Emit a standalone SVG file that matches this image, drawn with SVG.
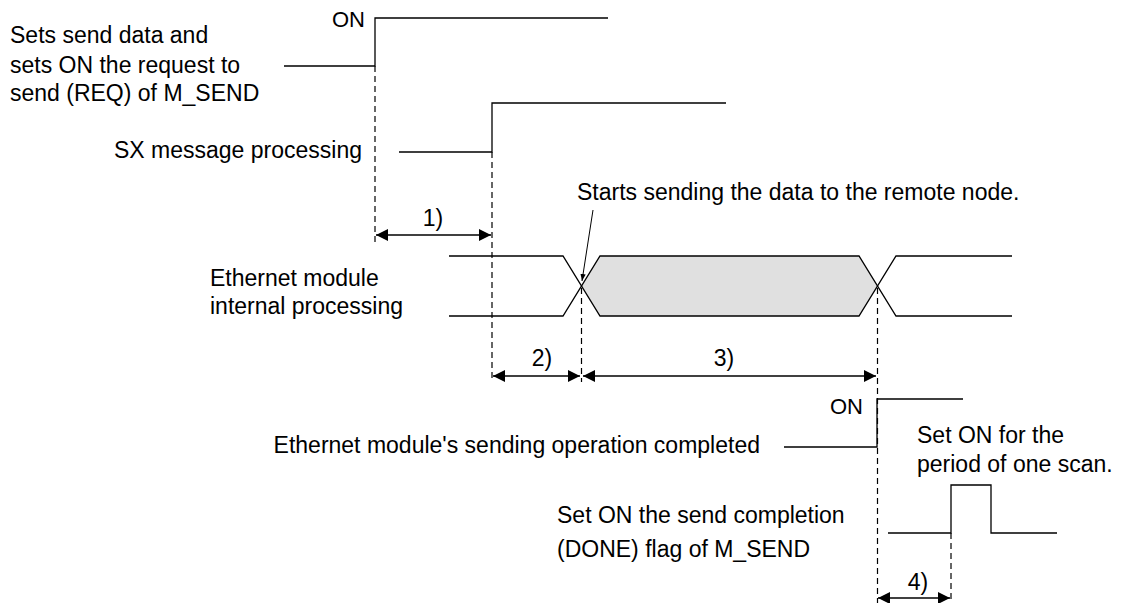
<svg xmlns="http://www.w3.org/2000/svg" width="1123" height="603" viewBox="0 0 1123 603">
<style>
text{font-family:"Liberation Sans",Arial,sans-serif;font-size:23px;fill:#000}
.on{font-size:22px}
.sig{fill:none;stroke:#000;stroke-width:1.3}
.dash{fill:none;stroke:#000;stroke-width:1.2;stroke-dasharray:6 4}
.dim{fill:none;stroke:#000;stroke-width:1.5;marker-start:url(#ah);marker-end:url(#ah)}
</style>
<defs>
<marker id="ah" viewBox="0 0 12 12" refX="12" refY="6" markerWidth="12" markerHeight="12" markerUnits="userSpaceOnUse" orient="auto-start-reverse">
<path d="M0,0 L12,6 L0,12 z" fill="#000"/>
</marker>
<marker id="sah" viewBox="0 0 8 8" refX="8" refY="4" markerWidth="7" markerHeight="7" markerUnits="userSpaceOnUse" orient="auto">
<path d="M0,1 L8,4 L0,7 z" fill="#000"/>
</marker>
</defs>
<g id="req">
<text x="10" y="43">Sets send data and</text>
<text x="10" y="73">sets ON the request to</text>
<text x="10" y="101">send (REQ) of M_SEND</text>
<text class="on" x="365" y="27" text-anchor="end">ON</text>
<polyline class="sig" points="284,66 375,66 375,18 608,18"/>
</g>
<g id="sx">
<text x="362" y="158" text-anchor="end">SX message processing</text>
<polyline class="sig" points="399,152 492,152 492,103 726,103"/>
</g>
<g id="ether">
<text x="210" y="286">Ethernet module</text>
<text x="210" y="314">internal processing</text>
<polygon points="581.5,286 600,256 859,256 877.5,286 859,316 600,316" fill="#e0e0e0" stroke="none"/>
<path class="sig" d="M449,256 H563 L600,316 H859 L896,256 H1012"/>
<path class="sig" d="M449,316 H563 L600,256 H859 L896,316 H1012"/>
</g>
<g id="start-note">
<text x="577" y="200">Starts sending the data to the remote node.</text>
<line x1="593" y1="210" x2="582" y2="281" stroke="#000" stroke-width="1" marker-end="url(#sah)"/>
</g>
<g id="complete">
<text x="760" y="453" text-anchor="end">Ethernet module's sending operation completed</text>
<text class="on" x="863" y="414" text-anchor="end">ON</text>
<polyline class="sig" points="784,447 877,447 877,399 963,399"/>
</g>
<g id="done">
<text x="557" y="523">Set ON the send completion</text>
<text x="557" y="557">(DONE) flag of M_SEND</text>
<text x="917" y="443">Set ON for the</text>
<text x="917" y="472">period of one scan.</text>
<polyline class="sig" points="888,533 951,533 951,485 991,485 991,533 1057,533"/>
</g>
<g id="connectors">
<line class="dash" x1="375" y1="66" x2="375" y2="242"/>
<line class="dash" x1="492" y1="152" x2="492" y2="380"/>
<line class="dash" x1="581.5" y1="288" x2="581.5" y2="382"/>
<line class="dash" x1="877.5" y1="288" x2="877.5" y2="603"/>
<line class="dash" x1="951" y1="533" x2="951" y2="603"/>
<line class="dim" x1="376" y1="235" x2="491" y2="235"/>
<line class="dim" x1="493" y1="376" x2="580" y2="376"/>
<line class="dim" x1="583" y1="376" x2="876" y2="376"/>
<line class="dim" x1="878" y1="598" x2="950" y2="598"/>
<text x="433" y="226" text-anchor="middle">1)</text>
<text x="542" y="366" text-anchor="middle">2)</text>
<text x="724" y="366" text-anchor="middle">3)</text>
<text x="918" y="590" text-anchor="middle">4)</text>
</g>
</svg>
